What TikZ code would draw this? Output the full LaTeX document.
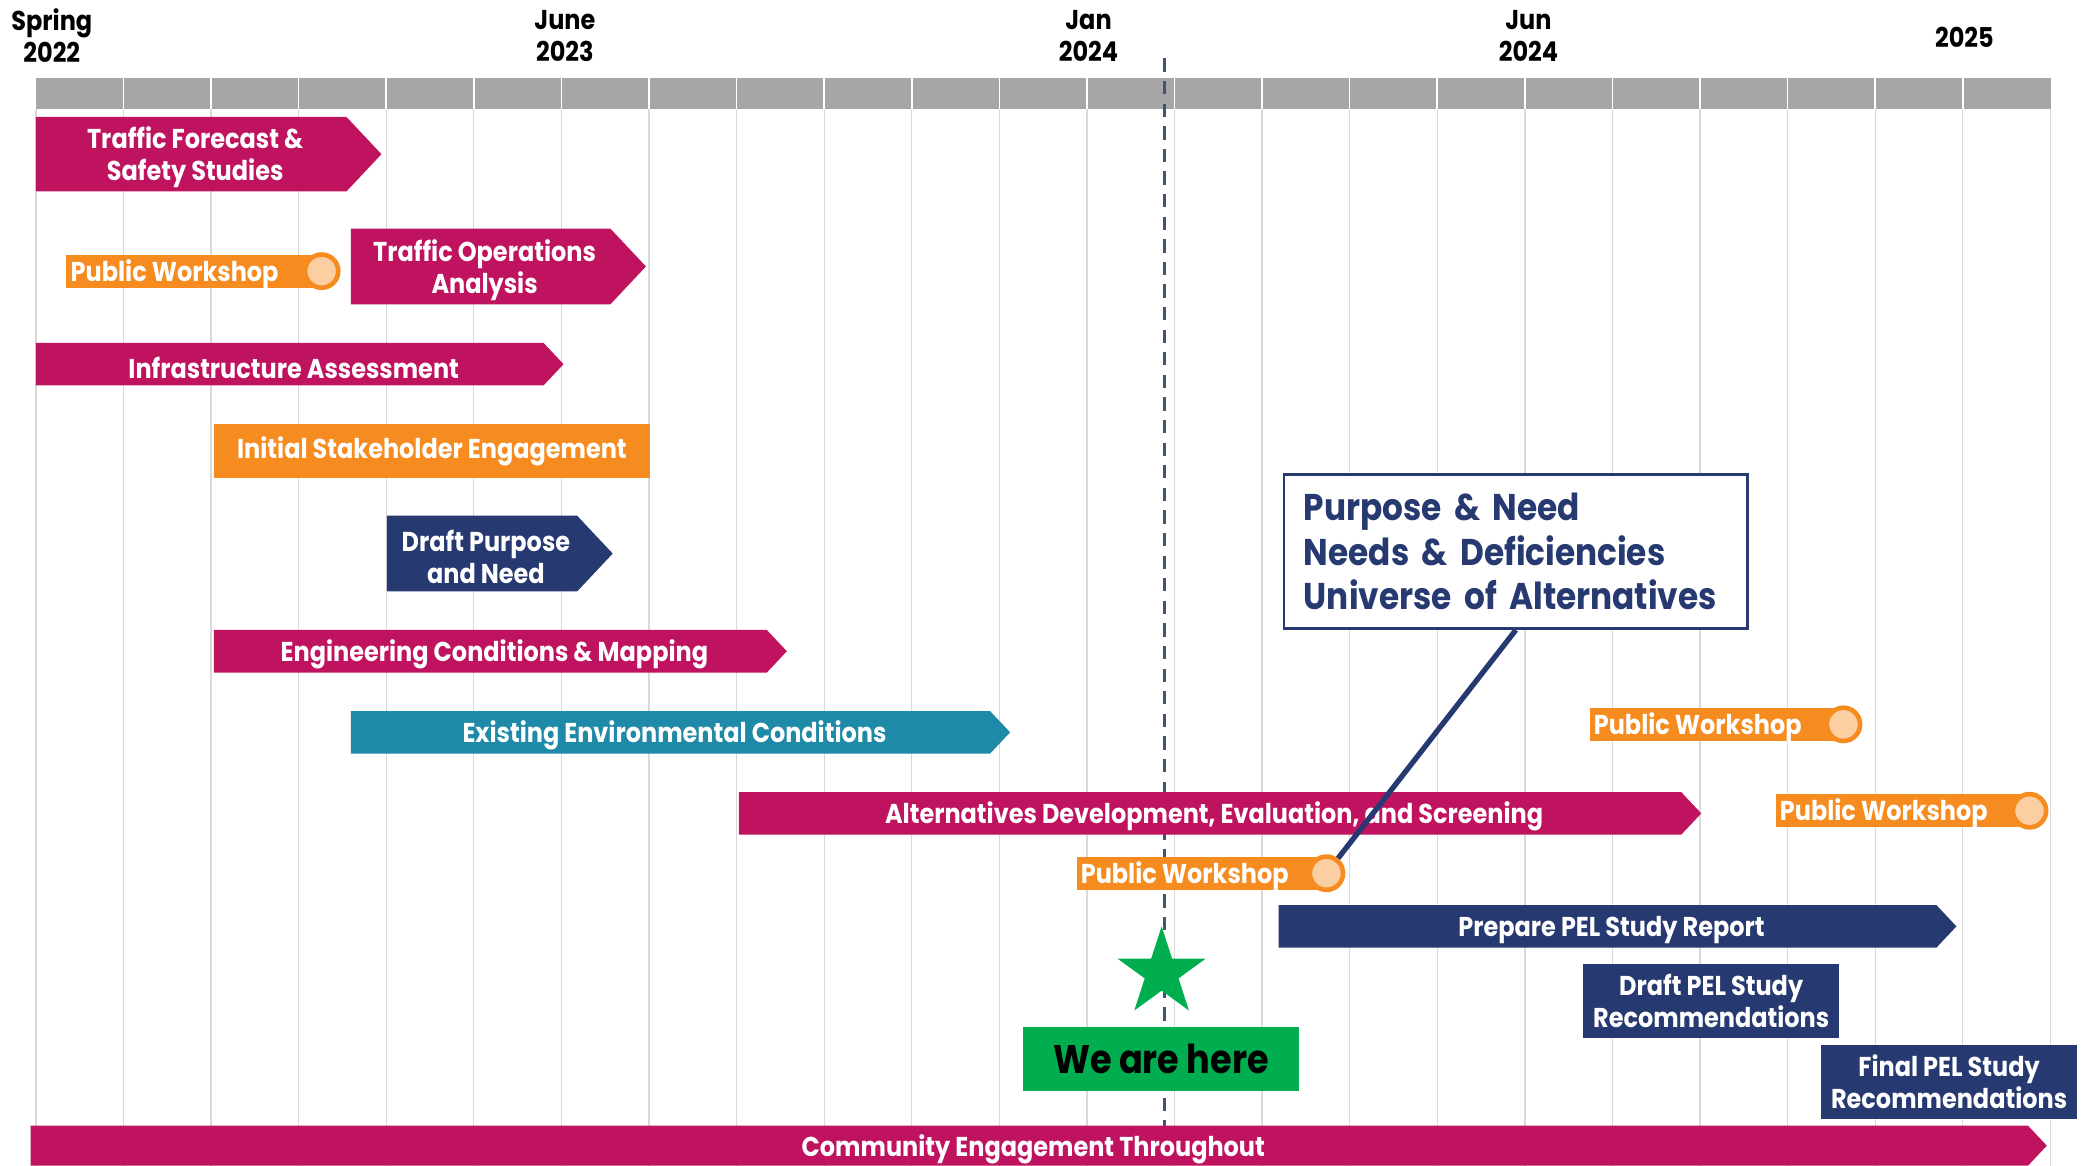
\documentclass[tikz,border=0pt]{standalone}
\usepackage{fontspec}
\setmainfont{Poppins}[FakeStretch=0.88]
\usepackage{tikz}
\usetikzlibrary{shapes.geometric}
\definecolor{barmagenta}{RGB}{192,19,95}
\definecolor{barorange}{RGB}{246,139,31}
\definecolor{peach}{RGB}{251,207,161}
\definecolor{barnavy}{RGB}{38,57,112}
\definecolor{barteal}{RGB}{31,138,167}
\definecolor{herogreen}{RGB}{0,173,79}
\definecolor{bandgrey}{RGB}{166,166,166}
\definecolor{gridgrey}{RGB}{217,217,217}
\definecolor{nowline}{RGB}{68,84,106}

\begin{document}
\begin{tikzpicture}[x=1pt,y=-1pt,
    bartext/.style={text=white,font=\fontsize{20.5}{24}\selectfont\bfseries,align=center,inner sep=0pt},
    datelabel/.style={font=\fontsize{20.5}{24}\selectfont\bfseries,align=center,inner sep=0pt},
    pwtext/.style={text=white,font=\fontsize{20.5}{24}\selectfont\bfseries,anchor=west,inner sep=0pt},
    pwdot/.style={circle,draw=barorange,line width=3.5pt,fill=peach,minimum size=25pt,inner sep=0pt},
    taskbox/.style={bartext,fill=#1,minimum width=193pt,minimum height=56pt}]
\useasboundingbox (0,0) rectangle (1568,877);

% --- month grid and header band ---
\foreach \k in {0,...,23}
    \draw[gridgrey,line width=1pt] ({27+65.9*\k},82) -- ({27+65.9*\k},877);
\fill[bandgrey] (27,59) rectangle (1543,82);
\foreach \k in {1,...,22}
    \draw[white,line width=1.2pt] ({27+65.9*\k},59) -- ({27+65.9*\k},82);

% dates over the band
\node[datelabel] (spring22) at (39,27) {Spring\\2022};
\node[datelabel] (june23) at (425,27) {June\\2023};
\node[datelabel] (jan24) at (819,27) {Jan\\2024};
\node[datelabel] (jun24) at (1150,27) {Jun\\2024};
\node[datelabel] (y25) at (1478,28) {2025};

% today marker
\draw[nowline,line width=2.2pt,dash pattern=on 10pt off 7pt] (876,44) -- (876,847);

% --- task arrows: left/tip/top/bottom/colour/name/text ---
\foreach \xa/\xb/\ya/\yb/\col/\nm/\lab in {
    27/287/88/144/barmagenta/forecast/{Traffic Forecast \&\\Safety Studies},
    264/486/172/229/barmagenta/operations/{Traffic Operations\\Analysis},
    27/424/258/290/barmagenta/infra/{Infrastructure Assessment},
    291/461/388/445/barnavy/draftpn/{Draft Purpose\\and Need},
    161/592/474/506/barmagenta/engineering/{Engineering Conditions \& Mapping},
    264/760/535/567/barteal/environ/{Existing Environmental Conditions},
    556/1280/596/628/barmagenta/alternatives/{Alternatives Development, Evaluation, and Screening},
    962/1472/681/713/barnavy/report/{Prepare PEL Study Report},
    23/1540/847/877/barmagenta/community/{Community Engagement Throughout}} {
    \fill[\col] (\xa,\ya) -- ({\xb-0.47*(\yb-\ya)},\ya) -- (\xb,{(\ya+\yb)/2})
        -- ({\xb-0.47*(\yb-\ya)},\yb) -- (\xa,\yb) -- cycle;
    \node[bartext] (\nm) at ({(\xa+\xb-0.47*(\yb-\ya))/2+3},{(\ya+\yb)/2+2.5}) {\lab};
}

% plain boxes
\node[taskbox=barorange,minimum width=328pt,minimum height=41pt] (stakeholder) at (325,339.5) {Initial Stakeholder Engagement};
\node[taskbox=barnavy] (draftrec) at (1287.5,753) {Draft PEL Study\\Recommendations};
\node[taskbox=barnavy] (finalrec) at (1466.5,814) {Final PEL Study\\Recommendations};

% public workshops: left/dot/centre/number
\foreach \xa/\xc/\yc/\n in {50/242/204/1, 810/998/657/2, 1196/1387/545/3, 1336/1527/610/4} {
    \fill[barorange] (\xa,{\yc-12.5}) rectangle (\xc,{\yc+12.5});
    \node[pwtext] (pw\n) at ({\xa+3},{\yc+2}) {Public Workshop};
    \node[pwdot] (pwdot\n) at (\xc,\yc) {};
}

% deliverables callout
\node[draw=barnavy,line width=2pt,fill=white,text=barnavy,minimum width=349pt,minimum height=116pt,
    text width=319pt,align=left,inner sep=0pt,font=\fontsize{28}{33.5}\selectfont\bfseries] (callout) at (1140.5,415)
    {Purpose \& Need\\Needs \& Deficiencies\\Universe of Alternatives};
\draw[barnavy,line width=4pt] (callout.south) -- (pwdot2);

% we are here
\node[star,star points=5,star point ratio=2.618,fill=herogreen,minimum size=70pt,inner sep=0pt] (here star) at (874,732) {};
\node[fill=herogreen,minimum width=207pt,minimum height=48pt,inner sep=0pt,font=\fontsize{30}{32}\selectfont\bfseries] (here) at (873.5,797) {We are here};
\end{tikzpicture}
\end{document}
